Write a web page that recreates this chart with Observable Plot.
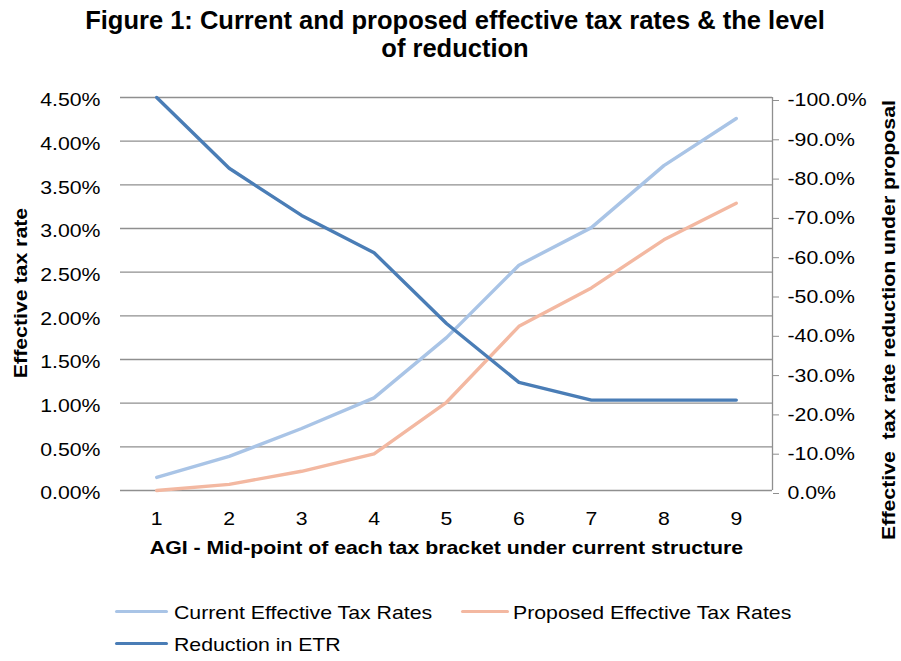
<!DOCTYPE html>
<html>
<head>
<meta charset="utf-8">
<script src="https://cdn.jsdelivr.net/npm/d3@7"></script>
<script src="https://cdn.jsdelivr.net/npm/@observablehq/plot@0.6"></script>
<style>
  html, body { margin: 0; padding: 0; background: #fff; }
  #chart {
    position: relative; width: 901px; height: 661px; overflow: hidden;
    font-family: "Liberation Sans", Arial, sans-serif; color: #000; background: #fff;
  }
  #chart svg { position: absolute; left: 0; top: 0; }
  #chart svg text { white-space: pre; }
  .title {
    position: absolute; left: 0; top: 6px; width: 910px; text-align: center;
    font-weight: bold; font-size: 25.5px; line-height: 28px;
  }
  .legend-item { position: absolute; font-size: 18.5px; line-height: 20px; white-space: nowrap; }
  .swatch { position: absolute; height: 3.5px; border-radius: 2px; }
  .wide { display: inline-block; transform: scaleX(1.15); transform-origin: 0 50%; }
</style>
</head>
<body>
<div id="chart"></div>
<script>
// Tax brackets (x) and effective tax rates in percent
const brackets = [1, 2, 3, 4, 5, 6, 7, 8, 9];
const currentETR = [0.15, 0.39, 0.71, 1.06, 1.75, 2.58, 3.01, 3.72, 4.26];
const proposedETR = [0.00, 0.07, 0.22, 0.42, 1.01, 1.88, 2.32, 2.87, 3.29];
// Reduction in ETR under the proposal, percent (secondary axis)
const reductionETR = [-100, -82, -70, -60.5, -42.5, -27.5, -23, -23, -23];

const leftTicks = [0, 0.5, 1, 1.5, 2, 2.5, 3, 3.5, 4, 4.5];
const rightTicks = [0, -10, -20, -30, -40, -50, -60, -70, -80, -90, -100];

const titleLines = ["Figure 1: Current and proposed effective tax rates & the level", "of reduction"];
const xTitle = "AGI - Mid-point of each tax bracket under current structure";
const yTitle = "Effective tax rate";
const y2Title = "Effective  tax rate reduction under proposal";

const series = [
  {key: "current", name: "Current Effective Tax Rates", color: "#a9c4e6"},
  {key: "proposed", name: "Proposed Effective Tax Rates", color: "#f3b8a1"},
  {key: "reduction", name: "Reduction in ETR", color: "#4a7db6"}
];

const xDomain = [0.5, 9.5];
const yDomain = [0, 4.5];
// the secondary axis (0% .. -100%) shares the primary y range
const toLeft = r => -r / 100 * yDomain[1];
const fromLeft = v => { const r = Math.round(-v / yDomain[1] * 1000) / 10; return r === 0 ? 0 : r; };

const rows = brackets.map((b, i) => ({
  bracket: b, current: currentETR[i], proposed: proposedETR[i], reduction: reductionETR[i]
}));

const grid = "#8f8f8f";

const svg = Plot.plot({
  width: 901,
  height: 661,
  marginTop: 97,
  marginBottom: 171,
  marginLeft: 120,
  marginRight: 129,
  x: {domain: xDomain, axis: null},
  y: {domain: yDomain, axis: null},
  style: {fontFamily: '"Liberation Sans", Arial, sans-serif', fontSize: "18.5px", color: "#000", background: "transparent"},
  marks: [
    Plot.gridY(leftTicks, {stroke: grid, strokeOpacity: 1, strokeWidth: 1.3}),
    Plot.ruleX([xDomain[1]], {stroke: grid, strokeWidth: 1.3}),
    Plot.axisY(leftTicks, {
      anchor: "left", tickSize: 0, tickPadding: 20, dy: 3, label: null,
      tickFormat: v => v.toFixed(2) + "%"
    }),
    Plot.axisY(rightTicks.map(toLeft), {
      anchor: "right", tickSize: 6, tickPadding: 9, dy: 3, label: null, stroke: grid,
      tickFormat: v => fromLeft(v).toFixed(1) + "%"
    }),
    Plot.axisX(brackets, {anchor: "bottom", tickSize: 0, tickPadding: 21, label: null, tickFormat: d => String(d)}),
    Plot.text([xTitle], {frameAnchor: "bottom", dy: 58, textAnchor: "middle", lineAnchor: "middle", fontWeight: "bold"}),
    Plot.text([yTitle], {frameAnchor: "left", dx: -99, dy: -1, rotate: -90, textAnchor: "middle", lineAnchor: "middle", fontWeight: "bold"}),
    Plot.text([y2Title], {frameAnchor: "right", dx: 117, dy: 26, rotate: -90, textAnchor: "middle", lineAnchor: "middle", fontWeight: "bold"}),
    Plot.line(rows, {x: "bracket", y: "current", stroke: series[0].color, strokeWidth: 3.4, strokeLinejoin: "round", strokeLinecap: "round"}),
    Plot.line(rows, {x: "bracket", y: "proposed", stroke: series[1].color, strokeWidth: 3.4, strokeLinejoin: "round", strokeLinecap: "round"}),
    Plot.line(rows, {x: "bracket", y: d => toLeft(d.reduction), stroke: series[2].color, strokeWidth: 3.4, strokeLinejoin: "round", strokeLinecap: "round"})
  ]
});

const chart = document.getElementById("chart");
chart.appendChild(svg);

// chart text is set slightly wide
for (const t of svg.querySelectorAll("text")) {
  const w = t.getComputedTextLength();
  if (w > 0) {
    t.setAttribute("textLength", (w * 1.15).toFixed(1));
    t.setAttribute("lengthAdjust", "spacingAndGlyphs");
  }
}

// title
const title = document.createElement("div");
title.className = "title";
title.innerHTML = titleLines.map(s => s.replace(/&/g, "&amp;")).join("<br>");
chart.appendChild(title);

// legend
const legendLayout = [
  {left: 115, top: 611.7, width: 53, textLeft: 174, textTop: 602.5},
  {left: 461, top: 611.7, width: 48, textLeft: 513, textTop: 602.5},
  {left: 115, top: 643.3, width: 53, textLeft: 174, textTop: 635}
];
series.forEach((s, i) => {
  const L = legendLayout[i];
  const sw = document.createElement("div");
  sw.className = "swatch";
  sw.style.left = L.left + "px";
  sw.style.top = (L.top - 1.75) + "px";
  sw.style.width = L.width + "px";
  sw.style.background = s.color;
  chart.appendChild(sw);
  const item = document.createElement("div");
  item.className = "legend-item";
  item.style.left = L.textLeft + "px";
  item.style.top = L.textTop + "px";
  const span = document.createElement("span");
  span.className = "wide";
  span.textContent = s.name;
  item.appendChild(span);
  chart.appendChild(item);
});
</script>
</body>
</html>
